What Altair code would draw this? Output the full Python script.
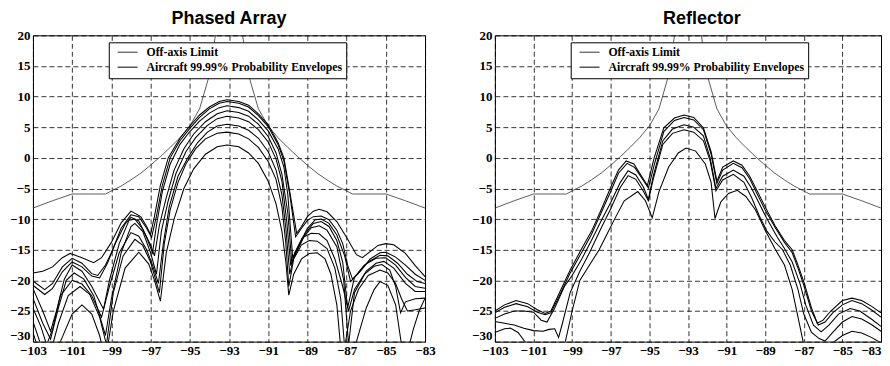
import altair as alt
import pandas as pd

# ---------------- data ----------------
x_ticks = [-103, -101, -99, -97, -95, -93, -91, -89, -87, -85, -83]
y_ticks = [-30, -25, -20, -15, -10, -5, 0, 5, 10, 15, 20]

OFF = "Off-axis Limit"
AIR = "Aircraft 99.99% Probability Envelopes"

offaxis_limit = [(-103, -8.2), (-102, -7.0), (-101, -5.9), (-100, -5.9), (-99.3, -5.9), (-99, -5.4),
                 (-98.5, -4.6), (-98, -3.6), (-97.5, -2.5), (-97, -1.2), (-96.5, 0.2), (-96, 1.7),
                 (-95.5, 3.3), (-95, 5.2), (-94.5, 8.0), (-94, 13.5), (-93.6, 22), (-93, 35),
                 (-92.4, 22), (-92, 13.5), (-91.5, 8.0), (-91, 5.2), (-90.5, 3.3), (-90, 1.7),
                 (-89.5, 0.2), (-89, -1.2), (-88.5, -2.5), (-88, -3.6), (-87.5, -4.6), (-87, -5.4),
                 (-86.7, -5.9), (-85, -5.9), (-84, -7.0), (-83, -8.2)]

pa1 = [(-103, -18.8), (-102.5, -18.5), (-102, -17.8), (-101.5, -16.3), (-101.1, -15.6), (-100.5, -16.3),
       (-99.9, -17.1), (-99.5, -16.3), (-99, -13.8), (-98.5, -10.6), (-98, -8.7), (-97.5, -9.6),
       (-97.2, -11.2), (-97.0, -12.5), (-96.8, -9.5), (-96.5, -4.5), (-96.1, 0), (-95.5, 3.2),
       (-95, 5.2), (-94.5, 7.0), (-94, 8.3), (-93.5, 9.2), (-93.1, 9.5), (-92.5, 9.2), (-92, 8.6),
       (-91.5, 7.2), (-91, 5.4), (-90.5, 2.5), (-90.2, 0), (-89.9, -5.5), (-89.55, -12.3),
       (-89.3, -11.2), (-89, -9.6), (-88.7, -8.7), (-88.4, -8.4), (-88, -8.8), (-87.5, -10.4),
       (-87, -13), (-86.5, -15.8), (-86.2, -16.3), (-85.8, -15.3), (-85.4, -14.3), (-85, -14.0),
       (-84.6, -14.2), (-84, -15.6), (-83.5, -17.6), (-83, -19.4)]
pa2 = [(-103, -20.1), (-102.4, -21.5), (-102, -20.5), (-101.5, -17.8), (-101, -16.4), (-100.5, -17.2),
       (-100, -18.9), (-99.7, -19.2), (-99.3, -17.5), (-99, -15.5), (-98.5, -11.5), (-98, -9.3),
       (-97.6, -9.6), (-97.2, -11.5), (-96.95, -13.0), (-96.7, -9.5), (-96.4, -4.5), (-96.0, 0),
       (-95.5, 2.8), (-95, 4.8), (-94.5, 6.6), (-94, 8.0), (-93.5, 8.9), (-93.1, 9.2), (-92.5, 8.9),
       (-92, 8.3), (-91.5, 6.9), (-91, 5.1), (-90.5, 2.2), (-90.2, -0.5), (-89.9, -6), (-89.6, -12.9),
       (-89.3, -11.5), (-89, -10.2), (-88.7, -9.6), (-88.3, -9.5), (-87.9, -10.1), (-87.5, -11.8),
       (-87.2, -14), (-86.95, -17.5), (-86.7, -19.8), (-86.3, -18.5), (-85.8, -16.5), (-85.3, -15.5),
       (-85, -15.4), (-84.5, -16.2), (-84, -17.5), (-83.5, -19), (-83, -20)]
pa3 = [(-103, -20.8), (-102.4, -22.3), (-102, -21.3), (-101.5, -18.6), (-101, -17), (-100.5, -17.8),
       (-100, -19.3), (-99.6, -19.6), (-99.2, -17.2), (-98.8, -14), (-98.3, -10.8), (-98, -9.7),
       (-97.6, -10.3), (-97.2, -13), (-96.9, -15.5), (-96.7, -11), (-96.4, -5.5), (-96.0, -1),
       (-95.5, 2.2), (-95, 4.3), (-94.5, 6.0), (-94, 7.3), (-93.5, 8.2), (-93.1, 8.5), (-92.5, 8.2),
       (-92, 7.6), (-91.5, 6.2), (-91, 4.4), (-90.5, 1.5), (-90.2, -1.5), (-90.0, -6), (-89.75, -16.3),
       (-89.4, -14), (-89, -11.5), (-88.6, -10.1), (-88.3, -10.0), (-87.9, -10.7), (-87.5, -12.6),
       (-87.1, -16), (-86.8, -20.2), (-86.4, -18.8), (-85.9, -17), (-85.3, -15.9), (-84.9, -16.0),
       (-84.4, -17.2), (-83.9, -19), (-83.4, -20.2), (-83, -20.5)]
pa4 = [(-103, -21.3), (-102.5, -25), (-102.1, -28.3), (-101.8, -25), (-101.4, -19.8), (-101, -17.5),
       (-100.5, -18.5), (-100, -21), (-99.4, -24.7), (-99.1, -20), (-98.6, -14), (-98.1, -10.2),
       (-97.8, -10.0), (-97.4, -11.6), (-97, -14.2), (-96.8, -16), (-96.55, -11), (-96.2, -6.5),
       (-95.8, -2), (-95.3, 1.5), (-94.8, 3.9), (-94.2, 5.9), (-93.6, 7.2), (-93.1, 7.7), (-92.5, 7.4),
       (-92, 6.8), (-91.5, 5.5), (-91, 3.5), (-90.6, 0.8), (-90.3, -2.7), (-90.0, -9), (-89.8, -17.0),
       (-89.5, -15), (-89.1, -12.3), (-88.7, -10.7), (-88.3, -10.4), (-87.9, -11.2), (-87.5, -13.5),
       (-87.2, -17), (-86.95, -24.5), (-86.6, -19.5), (-86.1, -17.5), (-85.5, -16.4), (-85, -16.3),
       (-84.5, -17.5), (-84, -19.5), (-83.5, -21), (-83, -21.3)]
pa5 = [(-103, -22.9), (-102.5, -27), (-102.1, -29.6), (-101.7, -24.5), (-101.3, -20), (-100.9, -18.8),
       (-100.4, -19.8), (-99.9, -22.5), (-99.3, -29), (-99, -23), (-98.5, -15.5), (-98.0, -11.2),
       (-97.8, -10.7), (-97.4, -12), (-97, -15.5), (-96.7, -19), (-96.45, -12), (-96.1, -7),
       (-95.7, -2.5), (-95.2, 1.0), (-94.7, 3.3), (-94.1, 5.3), (-93.6, 6.4), (-93.1, 6.8), (-92.5, 6.5),
       (-92, 5.9), (-91.5, 4.6), (-91, 2.6), (-90.6, -0.2), (-90.3, -3.8), (-90.05, -10.5),
       (-89.85, -17.6), (-89.6, -15.5), (-89.2, -13), (-88.8, -11.4), (-88.4, -11.1), (-88, -11.8),
       (-87.5, -14.5), (-87.15, -20), (-86.9, -30.5), (-86.6, -22), (-86, -18.5), (-85.5, -17.2),
       (-85.1, -16.9), (-84.6, -18), (-84, -20.5), (-83.5, -21.8), (-83, -21.8)]
pa6 = [(-103, -24.5), (-102.6, -27.5), (-102.3, -30.5), (-102.0, -28), (-101.6, -22.5), (-101.0, -20),
       (-100.5, -20.6), (-100, -22.5), (-99.5, -26), (-99.1, -21), (-98.6, -15.5), (-98.0, -12.2),
       (-97.6, -12.8), (-97.2, -15), (-96.9, -17.5), (-96.6, -20.5), (-96.35, -14), (-96.05, -8),
       (-95.6, -3), (-95.1, 0), (-94.6, 2.5), (-94.1, 4.2), (-93.6, 5.2), (-93.1, 5.5), (-92.5, 5.2),
       (-92, 4.5), (-91.5, 3.2), (-91, 1.0), (-90.6, -2), (-90.3, -6), (-90.1, -11.5), (-89.9, -19),
       (-89.65, -15.5), (-89.25, -13), (-88.8, -12.3), (-88.4, -12.4), (-88.0, -13.5), (-87.6, -16.5),
       (-87.2, -21), (-86.9, -25), (-86.6, -21.5), (-86.1, -19), (-85.6, -17.7), (-85.2, -17.4),
       (-84.8, -18.3), (-84.5, -21), (-84.25, -25.3), (-84.0, -23.5), (-83.5, -23), (-83, -22.9)]
pa7 = [(-103, -26.7), (-102.6, -30.5), (-102.2, -33), (-101.7, -27), (-101.2, -22.5), (-100.6, -21),
       (-100.1, -22.3), (-99.6, -26), (-99.25, -30.5), (-98.9, -22), (-98.4, -16), (-97.8, -13.3),
       (-97.4, -14.3), (-97, -17), (-96.55, -22), (-96.3, -14), (-96, -8.5), (-95.6, -4), (-95.2, -1),
       (-94.7, 1.5), (-94.2, 3.1), (-93.6, 4.0), (-93.1, 4.2), (-92.5, 3.9), (-92, 3.1), (-91.5, 1.7),
       (-91, -0.6), (-90.6, -3.5), (-90.3, -8), (-90.1, -14), (-89.95, -21), (-89.7, -16.5),
       (-89.3, -14.2), (-88.9, -13.5), (-88.5, -13.6), (-88, -14.8), (-87.6, -18), (-87.3, -23),
       (-87.1, -31), (-86.8, -25), (-86.4, -21.5), (-85.9, -19.2), (-85.3, -18.3), (-84.9, -18.8),
       (-84.5, -20.5), (-84.2, -23), (-83.9, -25), (-83.5, -24.8), (-83, -24.5)]
pa8 = [(-103, -28.5), (-102.7, -31.5), (-102.3, -34), (-101.6, -30), (-101, -25.5), (-100.5, -24),
       (-100, -25.5), (-99.6, -29), (-99.3, -33), (-98.9, -25), (-98.3, -18), (-97.6, -15.4),
       (-97.1, -17.3), (-96.8, -20), (-96.5, -23.4), (-96.2, -15.5), (-95.8, -10), (-95.3, -5),
       (-94.8, -1.8), (-94.2, 0.6), (-93.6, 1.8), (-93.1, 2.1), (-92.5, 1.8), (-92, 0.8), (-91.5, -0.9),
       (-91, -3.8), (-90.6, -7.5), (-90.3, -12), (-90.1, -17), (-89.95, -22.4), (-89.7, -19),
       (-89.3, -16.5), (-88.9, -15.6), (-88.5, -15.5), (-88.1, -16.5), (-87.8, -19), (-87.5, -24),
       (-87.3, -31), (-87, -35), (-86.5, -30), (-86, -24.5), (-85.6, -21.5), (-85.3, -20.2),
       (-84.9, -20.8), (-84.5, -24), (-84.2, -30.5), (-84.0, -33), (-83.6, -28), (-83.3, -25), (-83, -22.9)]

rf1 = [(-103, -25), (-102.5, -24), (-101.9, -23.3), (-101.3, -23.8), (-100.8, -24.8), (-100.4, -25.4),
       (-100.1, -25), (-99.7, -22.3), (-99.1, -18.3), (-98.5, -14.8), (-98, -12), (-97.5, -8.5),
       (-97, -4.8), (-96.6, -2.0), (-96.2, -0.5), (-95.8, -1.0), (-95.4, -3.0), (-95.1, -4.5),
       (-94.75, 0), (-94.25, 4.9), (-93.7, 6.5), (-93.2, 7.0), (-92.7, 6.6), (-92.2, 4.9), (-91.8, 1.0),
       (-91.5, -3.8), (-91.2, -1.5), (-90.65, -0.5), (-90.2, -1.2), (-89.8, -3), (-89.4, -5.5),
       (-89, -8), (-88.5, -11), (-88, -13.5), (-87.6, -15), (-87.3, -17.5), (-87, -20.2), (-86.6, -24.5),
       (-86.3, -27), (-86, -26.5), (-85.6, -25), (-85, -23.3), (-84.5, -22.9), (-84, -23.3),
       (-83.5, -24.2), (-83, -25.3)]
rf2 = [(-103, -25.3), (-102.5, -24.4), (-101.9, -23.8), (-101.3, -24.3), (-100.8, -25.2), (-100.4, -25.6),
       (-100.1, -25.3), (-99.7, -22.8), (-99.1, -18.8), (-98.5, -15.4), (-98, -12.5), (-97.5, -9),
       (-97, -5.5), (-96.6, -2.5), (-96.15, -0.9), (-95.75, -1.6), (-95.35, -3.5), (-95.05, -4.9),
       (-94.75, -1.2), (-94.25, 4.3), (-93.7, 6.1), (-93.2, 6.6), (-92.7, 6.2), (-92.2, 4.6),
       (-91.8, 0.6), (-91.5, -4.2), (-91.2, -2), (-90.65, -0.9), (-90.2, -1.6), (-89.8, -3.4),
       (-89.4, -6), (-89, -8.5), (-88.5, -11.3), (-88, -13.8), (-87.6, -15.5), (-87.3, -18), (-87, -20.8),
       (-86.6, -25), (-86.25, -27.3), (-85.9, -26.8), (-85.5, -25.3), (-85, -24), (-84.5, -23.3),
       (-84, -23.8), (-83.5, -24.8), (-83, -26)]
rf3 = [(-103, -26.2), (-102.5, -25.5), (-102, -25), (-101.5, -25), (-101, -25.2), (-100.6, -26.5),
       (-100.3, -26.8), (-99.9, -24.5), (-99.4, -21), (-99, -19.2), (-98.5, -16.5), (-98, -13.5),
       (-97.5, -10.3), (-97, -7.3), (-96.5, -4), (-96.1, -2.1), (-95.7, -2.8), (-95.3, -4.8),
       (-95.05, -6.8), (-94.8, -3), (-94.3, 2.8), (-93.8, 4.7), (-93.2, 5.4), (-92.7, 5.0), (-92.2, 3.6),
       (-91.85, 0), (-91.55, -5.0), (-91.2, -3), (-90.65, -2.0), (-90.1, -3), (-89.7, -5), (-89.3, -7.5),
       (-88.9, -10), (-88.4, -12.8), (-88, -14.8), (-87.6, -17), (-87.2, -20.5), (-86.9, -24),
       (-86.5, -27.3), (-86.1, -28.4), (-85.7, -27.3), (-85.2, -25.5), (-84.6, -24.6), (-84.1, -25),
       (-83.5, -26.3), (-83, -27.5)]
rf4 = [(-103, -26.7), (-102.5, -27.0), (-102, -27.3), (-101.5, -27.8), (-101, -28.2), (-100.5, -28.3),
       (-100.2, -28), (-99.9, -27.9), (-99.7, -29.3), (-99.5, -27), (-99.1, -22), (-98.6, -18.5),
       (-98.1, -15.5), (-97.5, -11.5), (-97, -8.3), (-96.5, -4.8), (-96.1, -2.9), (-95.7, -3.5),
       (-95.3, -5.5), (-95.05, -7.0), (-94.8, -3.5), (-94.3, 2.2), (-93.8, 4.0), (-93.2, 4.6),
       (-92.7, 4.2), (-92.2, 2.8), (-91.85, -0.5), (-91.55, -5.4), (-91.2, -3.6), (-90.65, -2.7),
       (-90.1, -4), (-89.7, -6.5), (-89.3, -9.5), (-88.9, -12), (-88.5, -13.7), (-88.1, -15),
       (-87.7, -17.5), (-87.3, -21.5), (-87.0, -25.5), (-86.6, -28.5), (-86.2, -29.5), (-85.9, -29.9),
       (-85.5, -28.5), (-85, -26.8), (-84.5, -25.9), (-84, -26.3), (-83.5, -27.2), (-83, -28.3)]
rf5 = [(-103, -28.5), (-102.5, -27.9), (-102.2, -27.8), (-101.8, -28.5), (-101.4, -30.2), (-101, -32),
       (-100, -33), (-99.6, -32), (-99.35, -30), (-99, -25), (-98.6, -20), (-98, -17), (-97.6, -15),
       (-97.2, -12.5), (-96.8, -10), (-96.3, -7), (-95.6, -5.5), (-95.2, -7), (-94.85, -9.8),
       (-94.5, -5.5), (-94, -1.5), (-93.5, 0.8), (-93.1, 1.6), (-92.6, 1.1), (-92.1, -1), (-91.8, -4),
       (-91.6, -9.9), (-91.3, -7.2), (-90.9, -5.8), (-90.45, -5.3), (-90.0, -6.3), (-89.5, -8.5),
       (-89.0, -11.8), (-88.5, -14.8), (-88.0, -17.5), (-87.6, -21.5), (-87.3, -26), (-87.0, -30.5),
       (-86.5, -33), (-86, -33), (-85.5, -30.2), (-85, -29), (-84.5, -28.3), (-84, -28.6),
       (-83.5, -29.3), (-83, -30.2)]

phased_curves = {"pa1": pa1, "pa2": pa2, "pa3": pa3, "pa4": pa4,
                 "pa5": pa5, "pa6": pa6, "pa7": pa7, "pa8": pa8}
reflector_curves = {"rf1": rf1, "rf2": rf2, "rf3": rf3, "rf4": rf4, "rf5": rf5}


def build_frame(curves):
    rows = []
    for i, (x, y) in enumerate(offaxis_limit):
        rows.append({"curve": "limit", "series": OFF, "x": x, "y": y, "i": i})
    for name, pts in curves.items():
        for i, (x, y) in enumerate(pts):
            rows.append({"curve": name, "series": AIR, "x": x, "y": y, "i": i})
    return pd.DataFrame(rows)


SERIF = "Liberation Serif"
SANS = "Liberation Sans"


def panel(df, title, title_dx, last_right, width):
    label_align = {"condition": {"test": "datum.value == -83", "value": "right"},
                   "value": "center"} if last_right else "center"
    return alt.Chart(df).mark_line(clip=True).encode(
        x=alt.X("x:Q", scale=alt.Scale(domain=[-103, -83], nice=False, zero=False),
                axis=alt.Axis(values=x_ticks, title=None, format="d", labelPadding=3,
                              labelOverlap=False, labelAlign=label_align)),
        y=alt.Y("y:Q", scale=alt.Scale(domain=[-30, 20], nice=False, zero=False),
                axis=alt.Axis(values=y_ticks, title=None, format="d", labelPadding=3,
                              minExtent=24, maxExtent=24, labelOverlap=False,
                              labelBaseline={"condition": {"test": "datum.value == -30",
                                                           "value": "alphabetic"},
                                             "value": "middle"},
                              labelOffset={"condition": {"test": "datum.value == -30",
                                                         "value": -2},
                                           "value": 0})),
        color=alt.Color("series:N",
                        scale=alt.Scale(domain=[OFF, AIR], range=["#333333", "#000000"]),
                        legend=alt.Legend(orient="none", legendX=76, legendY=7, title=None,
                                          fillColor="white", strokeColor="black", padding=4,
                                          symbolType="M-2,0H2", symbolSize=100,
                                          symbolStrokeWidth=1, symbolOffset=9,
                                          labelFont=SERIF, labelFontSize=11.8,
                                          labelFontWeight="bold", labelColor="black",
                                          labelOffset=13, rowPadding=2, labelLimit=400)),
        strokeWidth=alt.StrokeWidth("series:N",
                                    scale=alt.Scale(domain=[OFF, AIR], range=[0.8, 1.05]),
                                    legend=None),
        detail="curve:N",
        order="i:Q",
    ).properties(
        width=width, height=307,
        title=alt.TitleParams(title, font=SANS, fontSize=18, fontWeight="bold", color="black",
                              anchor="middle", offset=1.5, dx=title_dx),
    )


left = panel(build_frame(phased_curves), "Phased Array", 0, False, 393)
right = panel(build_frame(reflector_curves), "Reflector", 14, True, 387)

chart = alt.hconcat(left, right, spacing=34).resolve_legend(color="independent").properties(
    padding={"left": 0, "top": 1, "right": 0, "bottom": 0}
).configure_view(
    stroke="black", strokeWidth=1
).configure_axis(
    labelFont=SERIF, labelFontSize=13, labelFontWeight="bold", labelColor="black",
    ticks=False, domain=False, grid=True, gridColor="black", gridDash=[5, 3],
    gridWidth=0.8, gridOpacity=1,
)

chart.save("out.html", embed_options={"renderer": "svg", "actions": False})
